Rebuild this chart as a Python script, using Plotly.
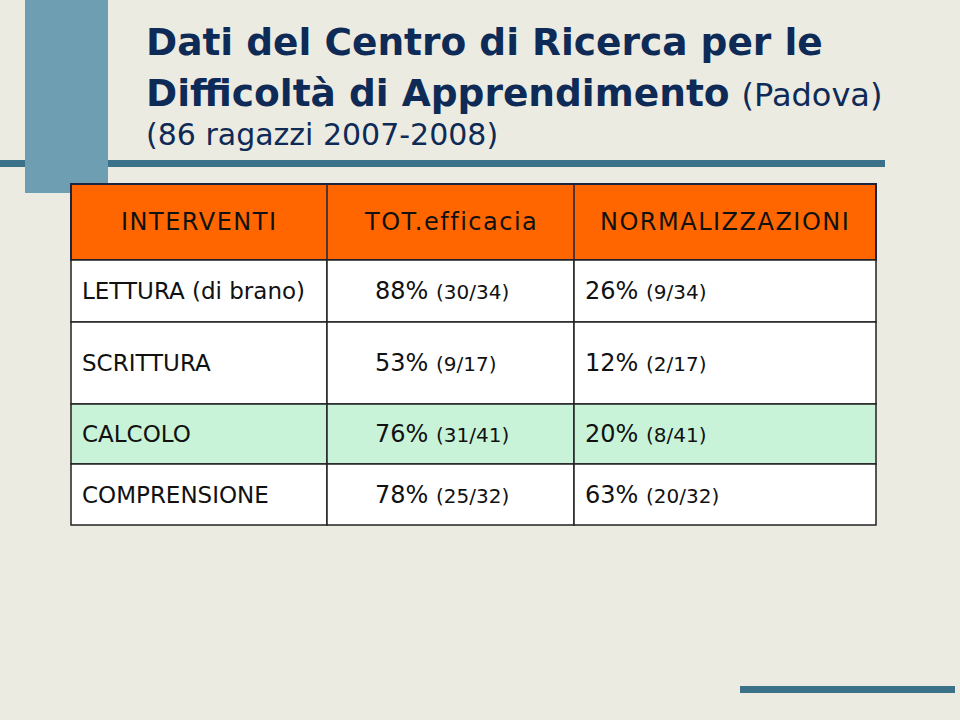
import plotly.graph_objects as go

# table content
headers = ["INTERVENTI", "TOT.efficacia", "NORMALIZZAZIONI"]
interventi = ["LETTURA (di brano)", "SCRITTURA", "CALCOLO", "COMPRENSIONE"]
eff_pct = [88, 53, 76, 78]
eff_frac = ["30/34", "9/17", "31/41", "25/32"]
norm_pct = [26, 12, 20, 63]
norm_frac = ["9/34", "2/17", "8/41", "20/32"]

title1 = "Dati del Centro di Ricerca per le"
title2 = "Difficoltà di Apprendimento"
title2b = "(Padova)"
subtitle = "(86 ragazzi 2007-2008)"

FONT = "DejaVu Sans"
NAVY = "#0E2A56"
ORANGE = "#FF6600"
GREEN = "#C8F3D8"
BG = "#ECEBE1"

col_x = [71, 327, 574, 876]
row_y = [184, 260, 322, 404, 464, 525]
row_fill = ["white", "white", GREEN, "white"]

shapes = []
annotations = []

# decorations
shapes.append(dict(type="rect", x0=0, x1=885, y0=160, y1=167,
                   fillcolor="#3B7189", line_width=0, layer="below"))
shapes.append(dict(type="rect", x0=25, x1=108, y0=0, y1=193,
                   fillcolor="#6E9EB2", line_width=0, layer="below"))
shapes.append(dict(type="rect", x0=740, x1=955, y0=686, y1=693,
                   fillcolor="#3B7189", line_width=0, layer="below"))

# header cells
shapes.append(dict(type="rect", x0=col_x[0], x1=col_x[-1], y0=row_y[0], y1=row_y[1],
                   fillcolor=ORANGE, line=dict(color="#1B2540", width=2)))
for j, h in enumerate(headers):
    annotations.append(dict(x=(col_x[j] + col_x[j + 1]) / 2, y=(row_y[0] + row_y[1]) / 2,
                            text=f"<span style='letter-spacing:1.5px'>{h}</span>",
                            showarrow=False, xanchor="center", yanchor="middle",
                            font=dict(family=FONT, size=24, color="#111111")))
for x in col_x[1:-1]:
    shapes.append(dict(type="line", x0=x, x1=x, y0=row_y[0], y1=row_y[1],
                       line=dict(color="#1B2540", width=1.5)))

# body rows
for i, name in enumerate(interventi):
    y0, y1 = row_y[i + 1], row_y[i + 2]
    ym = (y0 + y1) / 2
    for j in range(3):
        shapes.append(dict(type="rect", x0=col_x[j], x1=col_x[j + 1], y0=y0, y1=y1,
                           fillcolor=row_fill[i], line=dict(color="#222222", width=1.5)))
    annotations.append(dict(x=col_x[0] + 9, y=ym, text=name, showarrow=False,
                            xanchor="left", yanchor="middle",
                            font=dict(family=FONT, size=23, color="#111111")))
    annotations.append(dict(x=col_x[1] + 46, y=ym,
                            text=f"{eff_pct[i]}% <span style='font-size:20px'>({eff_frac[i]})</span>",
                            showarrow=False, xanchor="left", yanchor="middle",
                            font=dict(family=FONT, size=24, color="#111111")))
    annotations.append(dict(x=col_x[2] + 9, y=ym,
                            text=f"{norm_pct[i]}% <span style='font-size:20px'>({norm_frac[i]})</span>",
                            showarrow=False, xanchor="left", yanchor="middle",
                            font=dict(family=FONT, size=24, color="#111111")))

# title lines
annotations.append(dict(x=144, y=42, text=f"<b>{title1}</b>", showarrow=False,
                        xanchor="left", yanchor="middle",
                        font=dict(family=FONT, size=37.5, color=NAVY)))
annotations.append(dict(x=144, y=93,
                        text=f"<b>{title2}</b> <span style='font-size:32px'>{title2b}</span>",
                        showarrow=False, xanchor="left", yanchor="middle",
                        font=dict(family=FONT, size=37.5, color=NAVY)))
annotations.append(dict(x=144, y=134, text=subtitle, showarrow=False,
                        xanchor="left", yanchor="middle",
                        font=dict(family=FONT, size=30, color=NAVY)))

fig = go.Figure()
fig.update_layout(
    width=960, height=720,
    margin=dict(l=0, r=0, t=0, b=0),
    paper_bgcolor=BG, plot_bgcolor=BG,
    xaxis=dict(range=[0, 960], visible=False, fixedrange=True),
    yaxis=dict(range=[720, 0], visible=False, fixedrange=True),
    shapes=shapes, annotations=annotations,
    showlegend=False,
)

fig.write_html("out.html", config={"displayModeBar": False},
               post_script="document.body.style.margin='0px';document.body.style.overflow='hidden';")
